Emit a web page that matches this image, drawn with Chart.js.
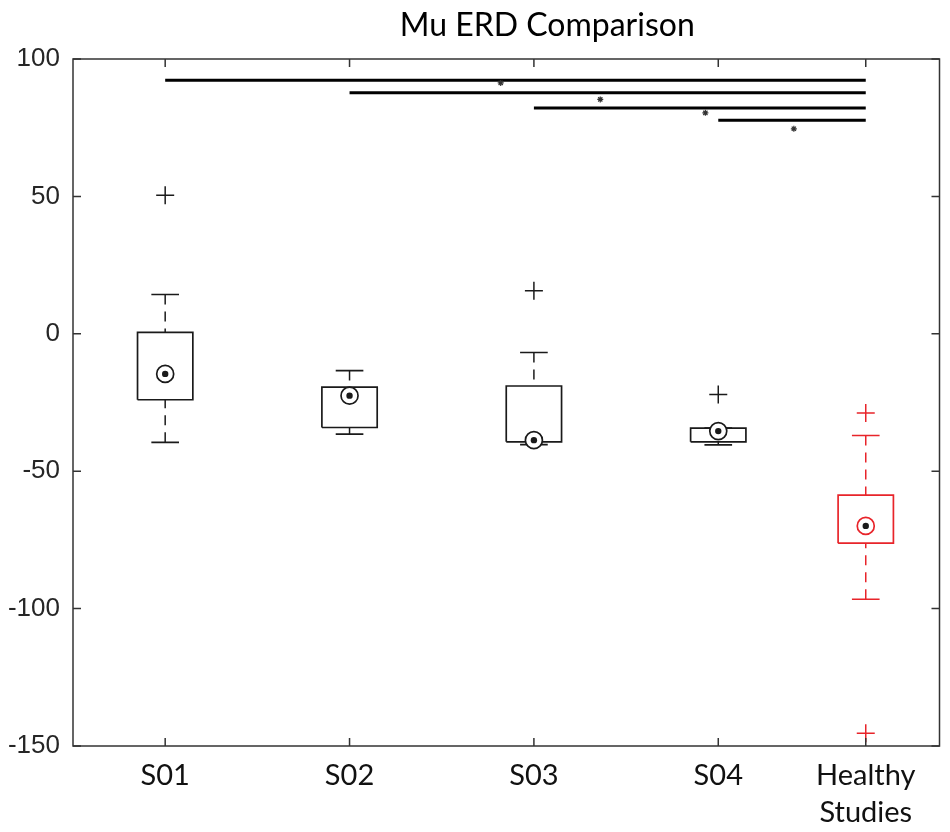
<!DOCTYPE html>
<html>
<head>
<meta charset="utf-8">
<script src="https://cdn.jsdelivr.net/npm/chart.js@4.4.1/dist/chart.umd.min.js"></script>
<style>
  html, body { margin: 0; padding: 0; background: #fff; overflow: hidden; }
  #wrap { position: relative; width: 950px; height: 832px; }
</style>
</head>
<body>
<div id="wrap"><canvas id="erdChart"></canvas></div>
<script>
// Group labels and their x positions (Healthy sits a bit closer)
const categories = ["S01", "S02", "S03", "S04", ["Healthy", "Studies"]];
const positions = [1, 2, 3, 4, 4.8];

// Box plot stats
const upperWhisker = [14.3, -13.4, -6.8, -34.3, -37.0];
const upperQuartile = [0.5, -19.4, -19.0, -34.3, -58.7];
const medians = [-14.6, -22.5, -38.7, -35.4, -69.9];
const lowerQuartile = [-24.0, -34.1, -39.3, -39.3, -76.2];
const lowerWhisker = [-39.5, -36.5, -40.3, -40.4, -96.6];
const outliers = [[50.4], [], [15.7], [-22.1], [-28.8, -145.4]];

// Significance bars (each subject vs healthy) and their asterisks
const sigFrom = [1, 2, 3, 4];
const sigTo = 4.8;
const sigLevels = [92.3, 87.7, 82.2, 77.7];
const starX = [2.82, 3.36, 3.93, 4.41];
const starY = [91.3, 85.3, 80.4, 74.6];

const yTicks = [-150, -100, -50, 0, 50, 100];

const BLACK = "#1a1a1a";
const RED = "#e8242a";
const BOX_HALF = 0.15;
const CAP_HALF = 0.075;

// Build the datasets for one group of boxes
function boxDatasets(indices, color) {
  let boxes = [];
  let whiskers = [];
  let caps = [];
  let meds = [];
  let outs = [];

  indices.forEach((i) => {
    const x = positions[i];
    boxes.push(
      { x: x - BOX_HALF, y: lowerQuartile[i] },
      { x: x + BOX_HALF, y: lowerQuartile[i] },
      { x: x + BOX_HALF, y: upperQuartile[i] },
      { x: x - BOX_HALF, y: upperQuartile[i] },
      { x: x - BOX_HALF, y: lowerQuartile[i] },
      { x: x, y: null }
    );
    whiskers.push(
      { x: x, y: upperWhisker[i] },
      { x: x, y: upperQuartile[i] },
      { x: x, y: null },
      { x: x, y: lowerWhisker[i] },
      { x: x, y: lowerQuartile[i] },
      { x: x, y: null }
    );
    caps.push(
      { x: x - CAP_HALF, y: upperWhisker[i] },
      { x: x + CAP_HALF, y: upperWhisker[i] },
      { x: x, y: null },
      { x: x - CAP_HALF, y: lowerWhisker[i] },
      { x: x + CAP_HALF, y: lowerWhisker[i] },
      { x: x, y: null }
    );
    meds.push({ x: x, y: medians[i] });
    outliers[i].forEach((v) => outs.push({ x: x, y: v }));
  });

  const lineBase = {
    type: "line",
    pointRadius: 0,
    spanGaps: false,
    fill: false,
    tension: 0,
    borderColor: color,
  };

  return [
    // median dot + ring on top
    { type: "scatter", data: meds, pointStyle: "circle", pointRadius: 3.2,
      pointBackgroundColor: BLACK, pointBorderWidth: 0 },
    { type: "scatter", data: meds, pointStyle: "circle", pointRadius: 8.5,
      pointBackgroundColor: "#fff", pointBorderColor: color, pointBorderWidth: 1.7 },
    { type: "scatter", data: outs, pointStyle: "cross", pointRadius: 9,
      pointBorderColor: color, pointBorderWidth: 1.5 },
    { ...lineBase, data: boxes, borderWidth: 1.7 },
    { ...lineBase, data: caps, borderWidth: 1.7 },
    { ...lineBase, data: whiskers, borderWidth: 1.5, borderDash: [10, 7] },
  ];
}

// Significance bars
let sigData = [];
sigFrom.forEach((from, i) => {
  sigData.push({ x: from, y: sigLevels[i] }, { x: sigTo, y: sigLevels[i] }, { x: from, y: null });
});
const starData = starX.map((x, i) => ({ x: x, y: starY[i] }));

// Frame, inward ticks and title (MATLAB look)
const matlabAxes = {
  id: "matlabAxes",
  afterDraw(chart) {
    const { ctx, chartArea: a, scales } = chart;
    ctx.save();
    ctx.strokeStyle = "#333";
    ctx.lineWidth = 1.5;
    ctx.strokeRect(a.left, a.top, a.right - a.left, a.bottom - a.top);
    ctx.beginPath();
    yTicks.forEach((v) => {
      const y = scales.y.getPixelForValue(v);
      ctx.moveTo(a.left, y); ctx.lineTo(a.left + 8, y);
      ctx.moveTo(a.right, y); ctx.lineTo(a.right - 8, y);
    });
    positions.forEach((v) => {
      const x = scales.x.getPixelForValue(v);
      ctx.moveTo(x, a.bottom); ctx.lineTo(x, a.bottom - 8);
      ctx.moveTo(x, a.top); ctx.lineTo(x, a.top + 8);
    });
    ctx.stroke();

    ctx.fillStyle = "#000";
    ctx.font = "32px Lato";
    ctx.textAlign = "center";
    ctx.textBaseline = "middle";
    ctx.fillText("Mu ERD Comparison", (a.left + a.right) / 2 + 41, 26);
    ctx.restore();
  },
};

new Chart(document.getElementById("erdChart"), {
  type: "scatter",
  data: {
    datasets: [
      { type: "scatter", data: starData, pointStyle: "star", pointRadius: 3,
        pointBorderColor: "#333", pointBorderWidth: 1.2 },
      { type: "line", data: sigData, borderColor: "#000", borderWidth: 3,
        pointRadius: 0, spanGaps: false, fill: false },
      ...boxDatasets([4], RED),
      ...boxDatasets([0, 1, 2, 3], BLACK),
    ],
  },
  plugins: [matlabAxes],
  options: {
    responsive: true,
    maintainAspectRatio: false,
    animation: false,
    events: [],
    layout: { padding: { top: 59, right: 5, left: 0, bottom: 0 } },
    plugins: {
      legend: { display: false },
      tooltip: { enabled: false },
    },
    scales: {
      x: {
        type: "linear",
        min: 0.5,
        max: 5.2,
        grid: { display: false, drawTicks: false },
        border: { display: false },
        afterBuildTicks: (scale) => {
          scale.ticks = positions.map((v) => ({ value: v }));
        },
        afterFit: (scale) => {
          scale.height = 86;
          scale.paddingLeft = 0;
          scale.paddingRight = 0;
        },
        ticks: {
          autoSkip: false,
          maxRotation: 0,
          padding: 12,
          color: "#111",
          font: { family: "Lato", size: 29, lineHeight: 1.25 },
          callback: (value) => categories[positions.indexOf(value)],
        },
      },
      y: {
        min: -150,
        max: 100,
        grid: { display: false, drawTicks: false },
        border: { display: false },
        afterFit: (scale) => {
          scale.width = 73;
        },
        ticks: {
          stepSize: 50,
          padding: 13,
          color: "#262626",
          font: { family: "Liberation Sans", size: 26 },
        },
      },
    },
  },
});
</script>
</body>
</html>
